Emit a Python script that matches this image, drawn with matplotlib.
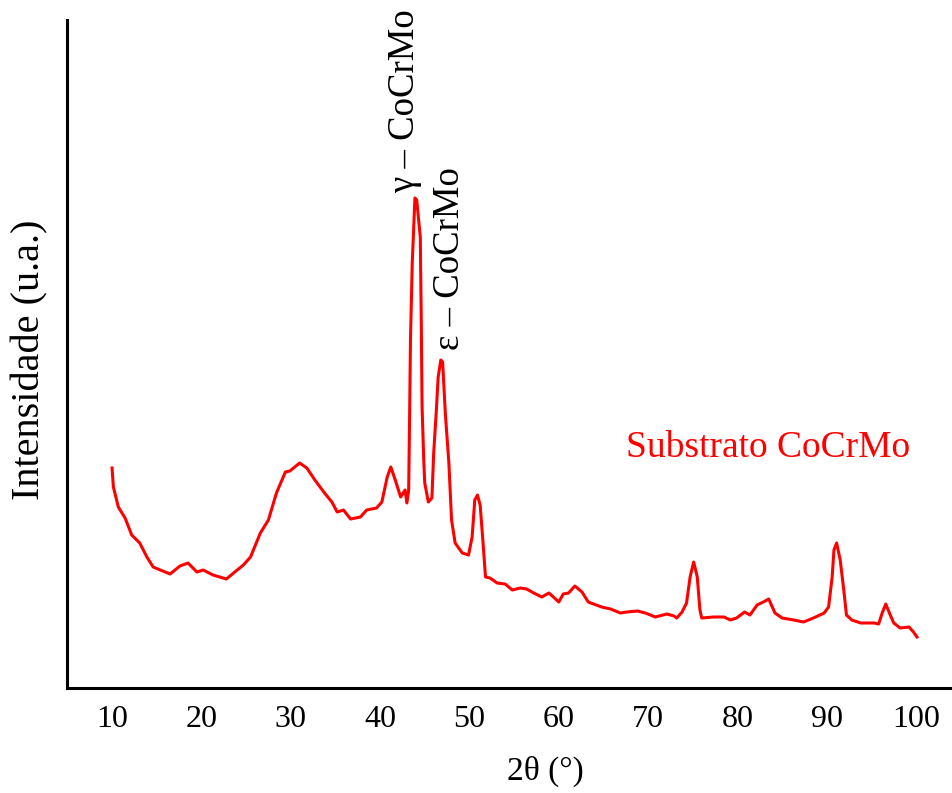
import matplotlib
matplotlib.use("Agg")
import matplotlib.pyplot as plt

# 2theta (deg) and intensity (a.u.)
two_theta = [10.0, 10.15, 10.7, 11.46, 12.2, 13.1, 13.9, 14.6, 15.4, 16.5, 17.6, 18.5, 19.5, 20.2,
             21.3, 22.8, 23.6, 24.7, 25.5, 26.6, 27.5, 28.4, 29.4, 29.9, 31.0, 31.8, 32.7, 33.7,
             34.6, 35.2, 35.9, 36.7, 37.8, 38.5, 39.6, 40.2, 40.8, 41.2, 41.7, 42.3, 42.8, 43.0,
             43.2, 43.3, 43.4, 43.6, 43.9, 44.1, 44.5, 44.6, 44.7, 44.9, 45.0, 45.4, 45.8, 46.0, 46.3,
             46.5, 46.8, 47.0, 47.3, 47.7, 48.0, 48.4, 49.2, 49.9, 50.3, 50.6, 50.9, 51.2, 51.5,
             51.8, 52.3, 53.1, 54.0, 54.8, 55.7, 56.4, 57.2, 58.1, 58.9, 59.4, 60.0, 60.5, 61.1,
             61.8, 62.6, 63.3, 63.9, 64.8, 65.8, 66.9, 67.6, 68.8, 69.7, 70.8, 72.1, 72.9, 73.2,
             73.8, 74.3, 74.7, 75.1, 75.5, 75.8, 76.0, 77.3, 78.5, 79.2, 79.9, 80.8, 81.4, 82.2,
             82.9, 83.5, 84.2, 85.0, 86.3, 87.4, 88.5, 89.7, 90.2, 90.6, 90.8, 91.1, 91.5, 91.9,
             92.2, 92.8, 93.8, 94.5, 95.3, 95.8, 96.2, 96.6, 97.1, 97.5, 98.2, 99.2, 99.7, 100.1]
intensity = [220, 201, 181, 170, 153, 145, 131, 121, 118, 114, 122, 125, 116, 118,
             113, 109, 115, 123, 131, 155, 168, 195, 216, 217, 225, 220, 208, 196,
             186, 176, 178, 169, 171, 178, 180, 186, 211, 221, 208, 191, 198, 185,
             198, 268, 348, 425, 490, 488, 451, 375, 281, 225, 205, 186, 190, 235, 278,
             311, 328, 326, 275, 225, 168, 145, 135, 133, 151, 188, 193, 183, 148,
             111, 110, 105, 104, 98, 100, 99, 95, 91, 95, 91, 86, 94, 95,
             102, 96, 86, 84, 81, 79, 75, 76, 77, 75, 71, 74, 72, 70,
             76, 85, 111, 126, 111, 78, 70, 71, 71, 68, 70, 76, 73, 83,
             86, 89, 75, 70, 68, 66, 70, 75, 81, 111, 138, 145, 128, 98,
             73, 68, 65, 65, 65, 64, 75, 84, 73, 65, 60, 61, 56, 51]

xticks = [10, 20, 30, 40, 50, 60, 70, 80, 90, 100]

serif = ["Liberation Serif", "DejaVu Serif"]
plt.rcParams["font.family"] = serif

fig = plt.figure(figsize=(9.52, 7.93), dpi=100)
ax = fig.add_axes([0.0704, 0.1324, 0.9276, 0.8424])
ax.plot(two_theta, intensity, color="#ff0000", lw=2.2)

ax.set_xlim(4.96, 103.8)
ax.set_ylim(0, 668)
ax.set_xticks(xticks)
ax.set_yticks([])
ax.tick_params(axis="x", length=0, pad=12, labelsize=23)
for s in ["top", "right"]:
    ax.spines[s].set_visible(False)
for s in ["left", "bottom"]:
    ax.spines[s].set_linewidth(2.2)
    ax.spines[s].set_color("black")

ax.text(42.8, 495, "γ – CoCrMo", rotation=90, ha="center", va="bottom", fontsize=26.5)
ax.text(47.85, 338, "ε – CoCrMo", rotation=90, ha="center", va="bottom", fontsize=26.5)
ax.text(67.55, 240, "Substrato CoCrMo", ha="left", va="center", fontsize=27, color="#ff0000")

fig.text(30 / 952, 1 - 360 / 793, "Intensidade (u.a.)", rotation=90, ha="center", va="center", fontsize=29)
fig.text(545 / 952, 1 - 771 / 793, "2θ (°)", ha="center", va="center", fontsize=24)

fig.savefig("out.png", dpi=100)
